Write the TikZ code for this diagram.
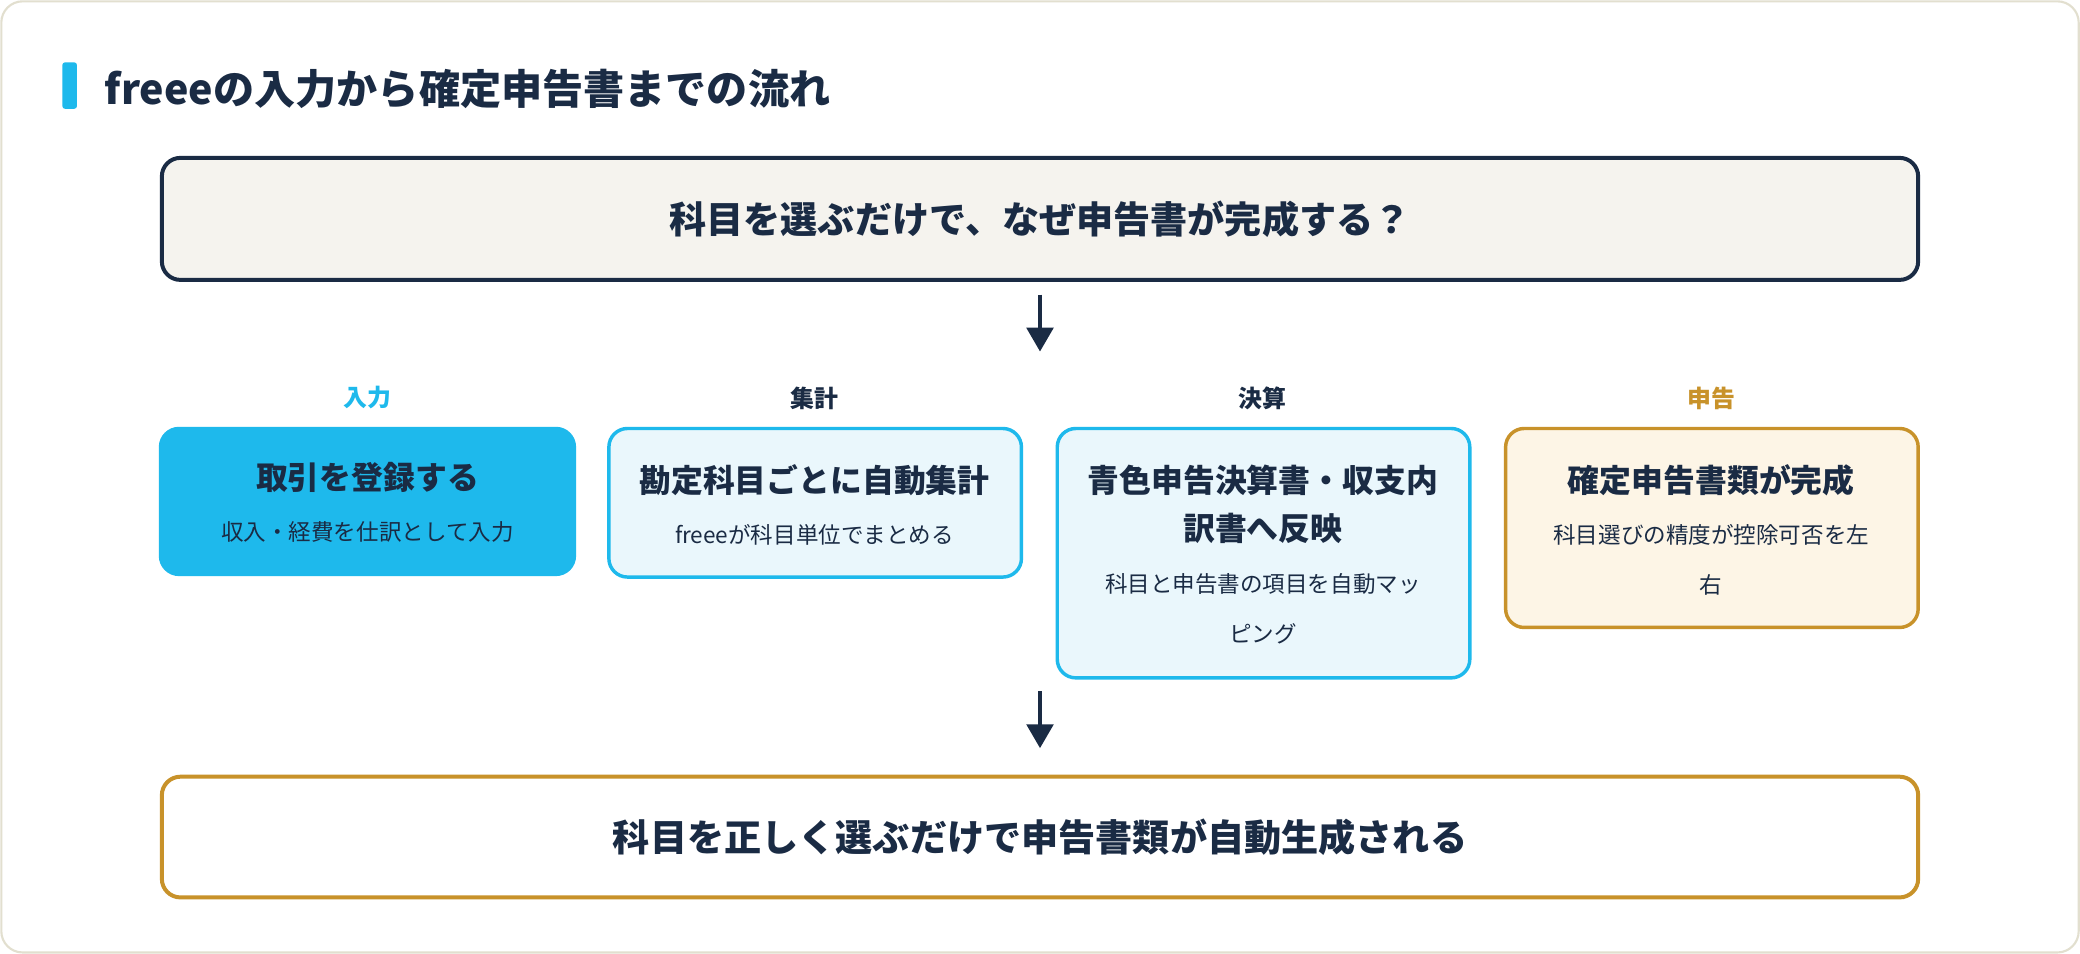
\documentclass[tikz,border=0pt]{standalone}
\usepackage{fontspec}
\setmainfont{Noto Sans CJK JP}
\usetikzlibrary{arrows.meta}
\definecolor{navy}{HTML}{1A2B44}
\definecolor{cyanc}{HTML}{1EB9EC}
\definecolor{cyanl}{HTML}{EAF7FC}
\definecolor{gold}{HTML}{C8922A}
\definecolor{goldl}{HTML}{FDF5E6}
\definecolor{beige}{HTML}{F5F3EE}
\definecolor{frame}{HTML}{E2DFCF}
\begin{document}
\begin{tikzpicture}[x=0.5pt,y=-0.5pt,
 big/.style={font=\fontsize{14}{17}\selectfont\bfseries,text=navy},
 lab/.style={font=\fontsize{9}{11}\selectfont\bfseries},
 ttl/.style={font=\fontsize{12}{18}\selectfont\bfseries,text=navy,align=center},
 sub/.style={font=\fontsize{8.5}{19}\selectfont,text=navy,align=center},
 arr/.style={navy,line width=1.5pt,-{Triangle[length=9pt,width=10pt]}},
 card/.style={rounded corners=7pt,line width=1.3pt}]
\useasboundingbox (0,0) rectangle (1568,719);
\draw[frame,fill=white,rounded corners=8pt,line width=0.8pt] (1,1) rectangle (1567,718);
\fill[cyanc,rounded corners=1pt] (47,47) rectangle (58,82);
\node[anchor=west,font=\fontsize{15.5}{18}\selectfont\bfseries,text=navy] (title) at (72,67) {freeeの入力から確定申告書までの流れ};
\node[draw=navy,fill=beige,line width=1.5pt,rounded corners=7pt,minimum width=662pt,minimum height=46pt,big] (q) at (784,165) {科目を選ぶだけで、なぜ申告書が完成する？};
\coordinate (a1s) at (784,222); \coordinate (a1e) at (784,265);
\draw[arr] (a1s) -- (a1e);
\node[lab,text=cyanc] (l1) at (277,300) {入力};
\node[lab,text=navy] (l2) at (614,300) {集計};
\node[lab,text=navy] (l3) at (952,300) {決算};
\node[lab,text=gold] (l4) at (1290,300) {申告};
\draw[card,fill=cyanc,draw=cyanc] (121,323) rectangle (433,433);
\node[ttl] (t1) at (277,360) {取引を登録する};
\node[sub] (s1) at (277,401) {収入・経費を仕訳として入力};
\draw[card,fill=cyanl,draw=cyanc] (459,323) rectangle (770,435);
\node[ttl] (t2) at (614,362) {勘定科目ごとに自動集計};
\node[sub] (s2) at (614,403) {freeeが科目単位でまとめる};
\draw[card,fill=cyanl,draw=cyanc] (797,323) rectangle (1108,511);
\node[ttl] (t3) at (952,380) {青色申告決算書・収支内\\訳書へ反映};
\node[sub] (s3) at (952,459) {科目と申告書の項目を自動マッ\\ピング};
\draw[card,fill=goldl,draw=gold] (1135,323) rectangle (1446,473);
\node[ttl] (t4) at (1290,362) {確定申告書類が完成};
\node[sub] (s4) at (1290,422) {科目選びの精度が控除可否を左\\右};
\coordinate (a2s) at (784,521); \coordinate (a2e) at (784,564);
\draw[arr] (a2s) -- (a2e);
\node[draw=gold,fill=white,line width=1.5pt,rounded corners=7pt,minimum width=662pt,minimum height=45.5pt,big] (r) at (784,631) {科目を正しく選ぶだけで申告書類が自動生成される};
\end{tikzpicture}
\end{document}
